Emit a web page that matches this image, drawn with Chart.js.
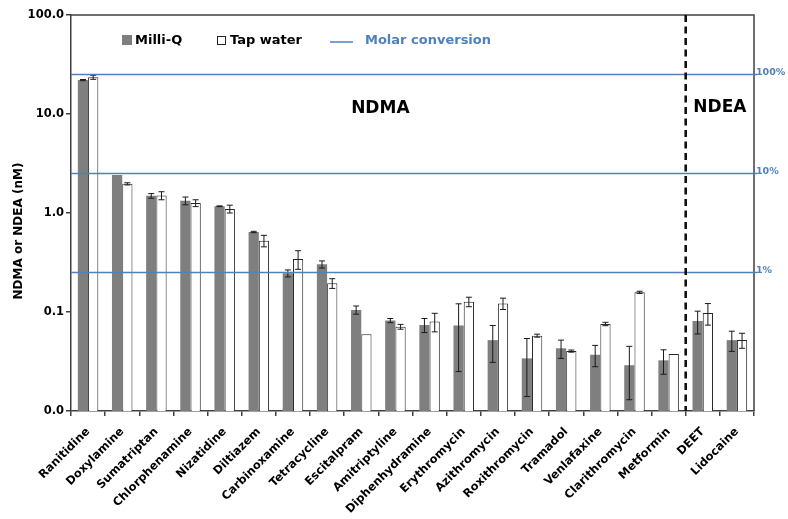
<!DOCTYPE html>
<html>
<head>
<meta charset="utf-8">
<script src="https://cdn.jsdelivr.net/npm/chart.js@4.4.1/dist/chart.umd.min.js"></script>
<style>
  html, body { margin: 0; padding: 0; background: #fff; }
</style>
</head>
<body>
<canvas id="chart" width="788" height="519"></canvas>
<script>
const categories = [
  'Ranitidine', 'Doxylamine', 'Sumatriptan', 'Chlorphenamine', 'Nizatidine',
  'Diltiazem', 'Carbinoxamine', 'Tetracycline', 'Escitalpram', 'Amitriptyline',
  'Diphenhydramine', 'Erythromycin', 'Azithromycin', 'Roxithromycin', 'Tramadol',
  'Venlafaxine', 'Clarithromycin', 'Metformin', 'DEET', 'Lidocaine'
];

// NDMA / NDEA formed (nM)
const milliQ = [22, 2.42, 1.49, 1.33, 1.17, 0.643, 0.246, 0.303, 0.105, 0.082,
  0.074, 0.073, 0.052, 0.034, 0.043, 0.037, 0.029, 0.0325, 0.081, 0.052];
const milliQErr = [0.3, 0, 0.08, 0.12, 0.01, 0.01, 0.02, 0.025, 0.01, 0.004,
  0.012, 0.048, 0.021, 0.02, 0.009, 0.009, 0.016, 0.009, 0.021, 0.012];
const tapWater = [23.5, 1.97, 1.5, 1.26, 1.1, 0.525, 0.343, 0.195, 0.0596, 0.071,
  0.08, 0.127, 0.122, 0.0577, 0.0403, 0.0757, 0.158, 0.0377, 0.0977, 0.052];
const tapWaterErr = [1.1, 0.05, 0.14, 0.1, 0.1, 0.07, 0.073, 0.022, 0, 0.004,
  0.017, 0.014, 0.016, 0.002, 0.001, 0.003, 0.004, 0, 0.024, 0.009];

// molar conversion reference lines
const conversionLevels = [25, 2.5, 0.25];
const conversionLabels = ['100%', '10%', '1%'];

const yTicks = [0.01, 0.1, 1, 10, 100];
const groupNames = ['NDMA', 'NDEA'];
const ndeaStart = 18; // first NDEA compound (DEET)

const FONT = 'DejaVu Sans';
const BLUE = '#4F81BD';
const GREY = '#7F7F7F';
const AXIS = '#404040';

// vertical error bars (± sd) drawn on top of each bar
const errorBars = {
  id: 'errorBars',
  afterDatasetsDraw(chart) {
    const { ctx, scales: { y } } = chart;
    ctx.save();
    ctx.strokeStyle = '#1a1a1a';
    ctx.lineWidth = 1;
    chart.data.datasets.forEach((ds, i) => {
      chart.getDatasetMeta(i).data.forEach((bar, j) => {
        const err = ds.errors[j];
        if (!err) return;
        const v = ds.data[j];
        const top = y.getPixelForValue(v + err);
        const bot = y.getPixelForValue(Math.max(v - err, 0.0101));
        ctx.beginPath();
        ctx.moveTo(bar.x, top);
        ctx.lineTo(bar.x, bot);
        ctx.moveTo(bar.x - 3, top);
        ctx.lineTo(bar.x + 3, top);
        ctx.moveTo(bar.x - 3, bot);
        ctx.lineTo(bar.x + 3, bot);
        ctx.stroke();
      });
    });
    ctx.restore();
  }
};

// frame, conversion lines, NDMA/NDEA divider, labels and legend
const decorations = {
  id: 'decorations',
  afterDraw(chart) {
    const { ctx, chartArea: area, scales: { x, y } } = chart;
    ctx.save();

    // top and right frame
    ctx.strokeStyle = AXIS;
    ctx.lineWidth = 1.5;
    ctx.beginPath();
    ctx.moveTo(area.left, area.top);
    ctx.lineTo(area.right, area.top);
    ctx.lineTo(area.right, area.bottom);
    ctx.stroke();

    // molar conversion lines
    ctx.strokeStyle = BLUE;
    ctx.lineWidth = 1.5;
    ctx.fillStyle = BLUE;
    ctx.font = `bold 9.5px "${FONT}"`;
    ctx.textBaseline = 'middle';
    ctx.textAlign = 'left';
    conversionLevels.forEach((lvl, i) => {
      const py = y.getPixelForValue(lvl);
      ctx.beginPath();
      ctx.moveTo(area.left, py);
      ctx.lineTo(area.right + 3, py);
      ctx.stroke();
      ctx.fillText(conversionLabels[i], area.right + 2, py - 2);
    });

    // dashed divider between NDMA and NDEA precursors
    const divX = (x.getPixelForTick(ndeaStart - 1) + x.getPixelForTick(ndeaStart)) / 2;
    ctx.strokeStyle = '#111';
    ctx.lineWidth = 2.6;
    ctx.setLineDash([7, 4.5]);
    ctx.beginPath();
    ctx.moveTo(divX, area.top);
    ctx.lineTo(divX, area.bottom);
    ctx.stroke();
    ctx.setLineDash([]);

    // group labels
    ctx.fillStyle = '#000';
    ctx.font = `bold 17px "${FONT}"`;
    ctx.textAlign = 'center';
    ctx.fillText(groupNames[0], (area.left + divX) / 2 + 2, area.top + 94);
    ctx.fillText(groupNames[1], (divX + area.right) / 2, area.top + 93);

    // y axis title
    ctx.save();
    ctx.translate(19, 231);
    ctx.rotate(-Math.PI / 2);
    ctx.font = `bold 12px "${FONT}"`;
    ctx.fillText('NDMA or NDEA (nM)', 0, 0);
    ctx.restore();

    // legend
    const ds = chart.data.datasets;
    ctx.font = `bold 13px "${FONT}"`;
    ctx.textAlign = 'left';
    ctx.fillStyle = ds[0].backgroundColor;
    ctx.fillRect(122, 35, 10, 10);
    ctx.fillStyle = '#000';
    ctx.fillText(ds[0].label, 135, 41);

    ctx.fillStyle = '#fff';
    ctx.fillRect(217, 36, 8, 8);
    ctx.strokeStyle = '#222';
    ctx.lineWidth = 1;
    ctx.strokeRect(217.5, 36.5, 8, 8);
    ctx.fillStyle = '#000';
    ctx.fillText(ds[1].label, 230, 41);

    ctx.strokeStyle = BLUE;
    ctx.lineWidth = 1.5;
    ctx.beginPath();
    ctx.moveTo(330, 42);
    ctx.lineTo(353, 42);
    ctx.stroke();
    ctx.fillStyle = BLUE;
    ctx.fillText('Molar conversion', 365, 41);

    ctx.restore();
  }
};

new Chart(document.getElementById('chart'), {
  type: 'bar',
  data: {
    labels: categories,
    datasets: [
      {
        label: 'Milli-Q',
        data: milliQ,
        errors: milliQErr,
        backgroundColor: GREY,
        borderWidth: 0
      },
      {
        label: 'Tap water',
        data: tapWater,
        errors: tapWaterErr,
        backgroundColor: '#fff',
        borderColor: '#262626',
        borderWidth: 1
      }
    ]
  },
  options: {
    responsive: false,
    animation: false,
    layout: { padding: { top: 15, right: 34, left: 0, bottom: 0 } },
    datasets: {
      bar: { barPercentage: 1, categoryPercentage: 0.6 }
    },
    plugins: {
      legend: { display: false },
      tooltip: { enabled: false }
    },
    scales: {
      x: {
        offset: true,
        grid: {
          offset: true,
          drawOnChartArea: false,
          tickLength: 5,
          color: AXIS,
          lineWidth: 1.5
        },
        border: { color: AXIS, width: 1.5 },
        ticks: {
          autoSkip: false,
          minRotation: 45,
          maxRotation: 45,
          padding: 9,
          color: '#000',
          font: { family: FONT, weight: 'bold', size: 11.5 }
        },
        afterFit: scale => { scale.height = 108; }
      },
      y: {
        type: 'logarithmic',
        min: 0.01,
        max: 100,
        afterBuildTicks: scale => {
          scale.ticks = yTicks.map(v => ({ value: v }));
        },
        grid: {
          drawOnChartArea: false,
          tickLength: 5,
          color: AXIS,
          lineWidth: 1.5
        },
        border: { color: AXIS, width: 1.5 },
        ticks: {
          padding: 2,
          color: '#000',
          font: { family: FONT, weight: 'bold', size: 11.5 },
          callback: v => Number(v).toFixed(1)
        },
        afterFit: scale => { scale.width = 71; }
      }
    }
  },
  plugins: [errorBars, decorations]
});
</script>
</body>
</html>
